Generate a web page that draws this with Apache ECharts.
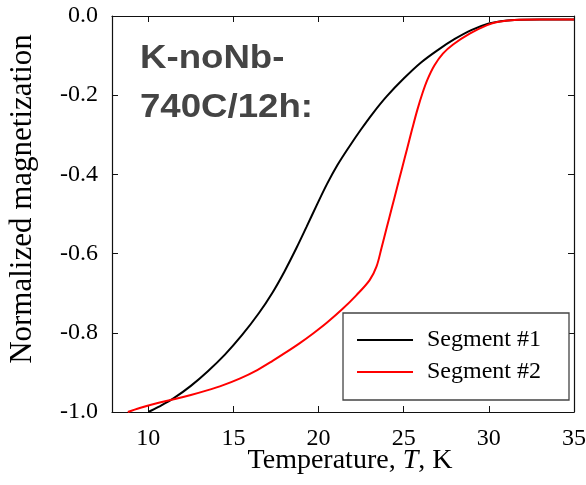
<!DOCTYPE html>
<html>
<head>
<meta charset="utf-8">
<script src="https://cdn.jsdelivr.net/npm/echarts@6/dist/echarts.min.js"></script>
<style>
  html, body { margin: 0; padding: 0; background: #fff; }
  #chart { width: 586px; height: 485px; }
</style>
</head>
<body>
<div id="chart"></div>
<script>
// Segment #1: temperature (K) and normalized magnetization
const tempSeg1 = [10.0, 10.6, 11.5, 12.5, 13.5, 14.5, 15.5, 16.5, 17.3, 18.0, 18.7, 19.3, 19.9, 20.5, 21.1, 21.8, 22.5, 23.2, 24.0, 25.0, 26.0, 27.0, 28.0, 29.0, 30.0, 30.7, 31.5, 33.0, 35.0];
const magSeg1  = [-1.0, -0.987, -0.965, -0.934, -0.897, -0.855, -0.806, -0.75, -0.698, -0.645, -0.586, -0.532, -0.477, -0.424, -0.377, -0.33, -0.286, -0.245, -0.203, -0.158, -0.118, -0.086, -0.058, -0.035, -0.019, -0.013, -0.01, -0.009, -0.009];

// Segment #2
const tempSeg2 = [8.8, 9.5, 10.5, 11.5, 12.5, 13.4, 14.4, 15.4, 16.4, 17.3, 18.1, 18.9, 19.7, 20.5, 21.4, 22.2, 23.0, 23.4, 23.7, 24.0, 24.3, 24.6, 24.9, 25.2, 25.5, 25.8, 26.1, 26.4, 26.8, 27.3, 27.9, 28.9, 29.9, 30.5, 31.5, 33.0, 35.0];
const magSeg2  = [-1.0, -0.99, -0.978, -0.968, -0.957, -0.946, -0.932, -0.915, -0.894, -0.871, -0.849, -0.826, -0.801, -0.774, -0.74, -0.706, -0.667, -0.633, -0.585, -0.535, -0.485, -0.435, -0.385, -0.335, -0.285, -0.237, -0.195, -0.16, -0.125, -0.095, -0.072, -0.044, -0.023, -0.015, -0.01, -0.009, -0.009];

const xTicks = [10, 15, 20, 25, 30, 35];
const seriesNames = ['Segment #1', 'Segment #2'];
const titleLines = ['K-noNb-', '740C/12h:'];

const pairs = (xs, ys) => xs.map((x, i) => [x, ys[i]]);

const serif = '"Liberation Serif", "Times New Roman", serif';
const axisColor = '#111';
const xMin = 7.87, xMax = 35;

const chart = echarts.init(document.getElementById('chart'));

const baseX = {
  type: 'value', min: xMin, max: xMax,
  splitLine: { show: false },
  axisLine: { show: true, onZero: false, lineStyle: { color: axisColor, width: 1.2 } },
  axisTick: { show: true, inside: true, length: 6, customValues: xTicks, lineStyle: { color: axisColor } }
};
const baseY = {
  type: 'value', min: -1, max: 0, interval: 0.2,
  splitLine: { show: false },
  axisLine: { show: true, onZero: false, lineStyle: { color: axisColor, width: 1.2 } },
  axisTick: { show: true, inside: true, length: 6, lineStyle: { color: axisColor } }
};

chart.setOption({
  backgroundColor: '#fff',
  animation: false,
  grid: { left: 112, right: 12, top: 16, bottom: 73, outerBoundsMode: 'none' },
  xAxis: [
    Object.assign({}, baseX, {
      position: 'bottom',
      axisLabel: { show: true, customValues: xTicks, margin: 15, color: '#000', fontFamily: serif, fontSize: 24 },
      name: '{n|Temperature, }{i|T}{n|, K}',
      nameLocation: 'middle', nameGap: 35, nameMoveOverlap: false,
      nameTextStyle: {
        padding: [0, 0, 0, 14],
        rich: {
          n: { fontFamily: serif, fontSize: 28, color: '#000' },
          i: { fontFamily: serif, fontSize: 28, color: '#000', fontStyle: 'italic' }
        }
      }
    }),
    Object.assign({}, baseX, { position: 'top', axisLabel: { show: false } })
  ],
  yAxis: [
    Object.assign({}, baseY, {
      position: 'left',
      axisLabel: {
        show: true, margin: 14, color: '#000', fontFamily: serif, fontSize: 24,
        formatter: v => (Math.abs(v) < 1e-9 ? 0 : v).toFixed(1)
      },
      name: 'Normalized magnetization',
      nameLocation: 'middle', nameGap: 74, nameMoveOverlap: false,
      nameTextStyle: { fontFamily: serif, fontSize: 31, color: '#000', padding: [0, 0, 0, 30] }
    }),
    Object.assign({}, baseY, { position: 'right', axisLabel: { show: false } })
  ],
  legend: {
    data: seriesNames.map(n => ({ name: n, icon: 'rect' })),
    orient: 'vertical',
    right: 17, bottom: 85,
    padding: [15, 28, 16, 14],
    itemWidth: 56, itemHeight: 2, itemGap: 8,
    backgroundColor: '#fff',
    borderColor: '#444', borderWidth: 1.3, borderRadius: 0,
    textStyle: { fontFamily: serif, fontSize: 24, color: '#000', padding: [0, 0, 0, 9], lineHeight: 22 }
  },
  graphic: [{
    type: 'text', left: 140, top: 34, z: 10, scaleX: 1.11,
    style: {
      text: titleLines.join('\n'),
      font: 'bold 33px "Liberation Sans", Arial, sans-serif',
      fill: '#444', lineHeight: 49
    }
  }],
  series: [
    {
      name: seriesNames[0], type: 'line', data: pairs(tempSeg1, magSeg1),
      symbol: 'none', smooth: 0.35,
      lineStyle: { color: '#000', width: 2 }, itemStyle: { color: '#000' }
    },
    {
      name: seriesNames[1], type: 'line', data: pairs(tempSeg2, magSeg2),
      symbol: 'none', smooth: 0.35,
      lineStyle: { color: '#ff0000', width: 2 }, itemStyle: { color: '#ff0000' }
    }
  ]
});
</script>
</body>
</html>
